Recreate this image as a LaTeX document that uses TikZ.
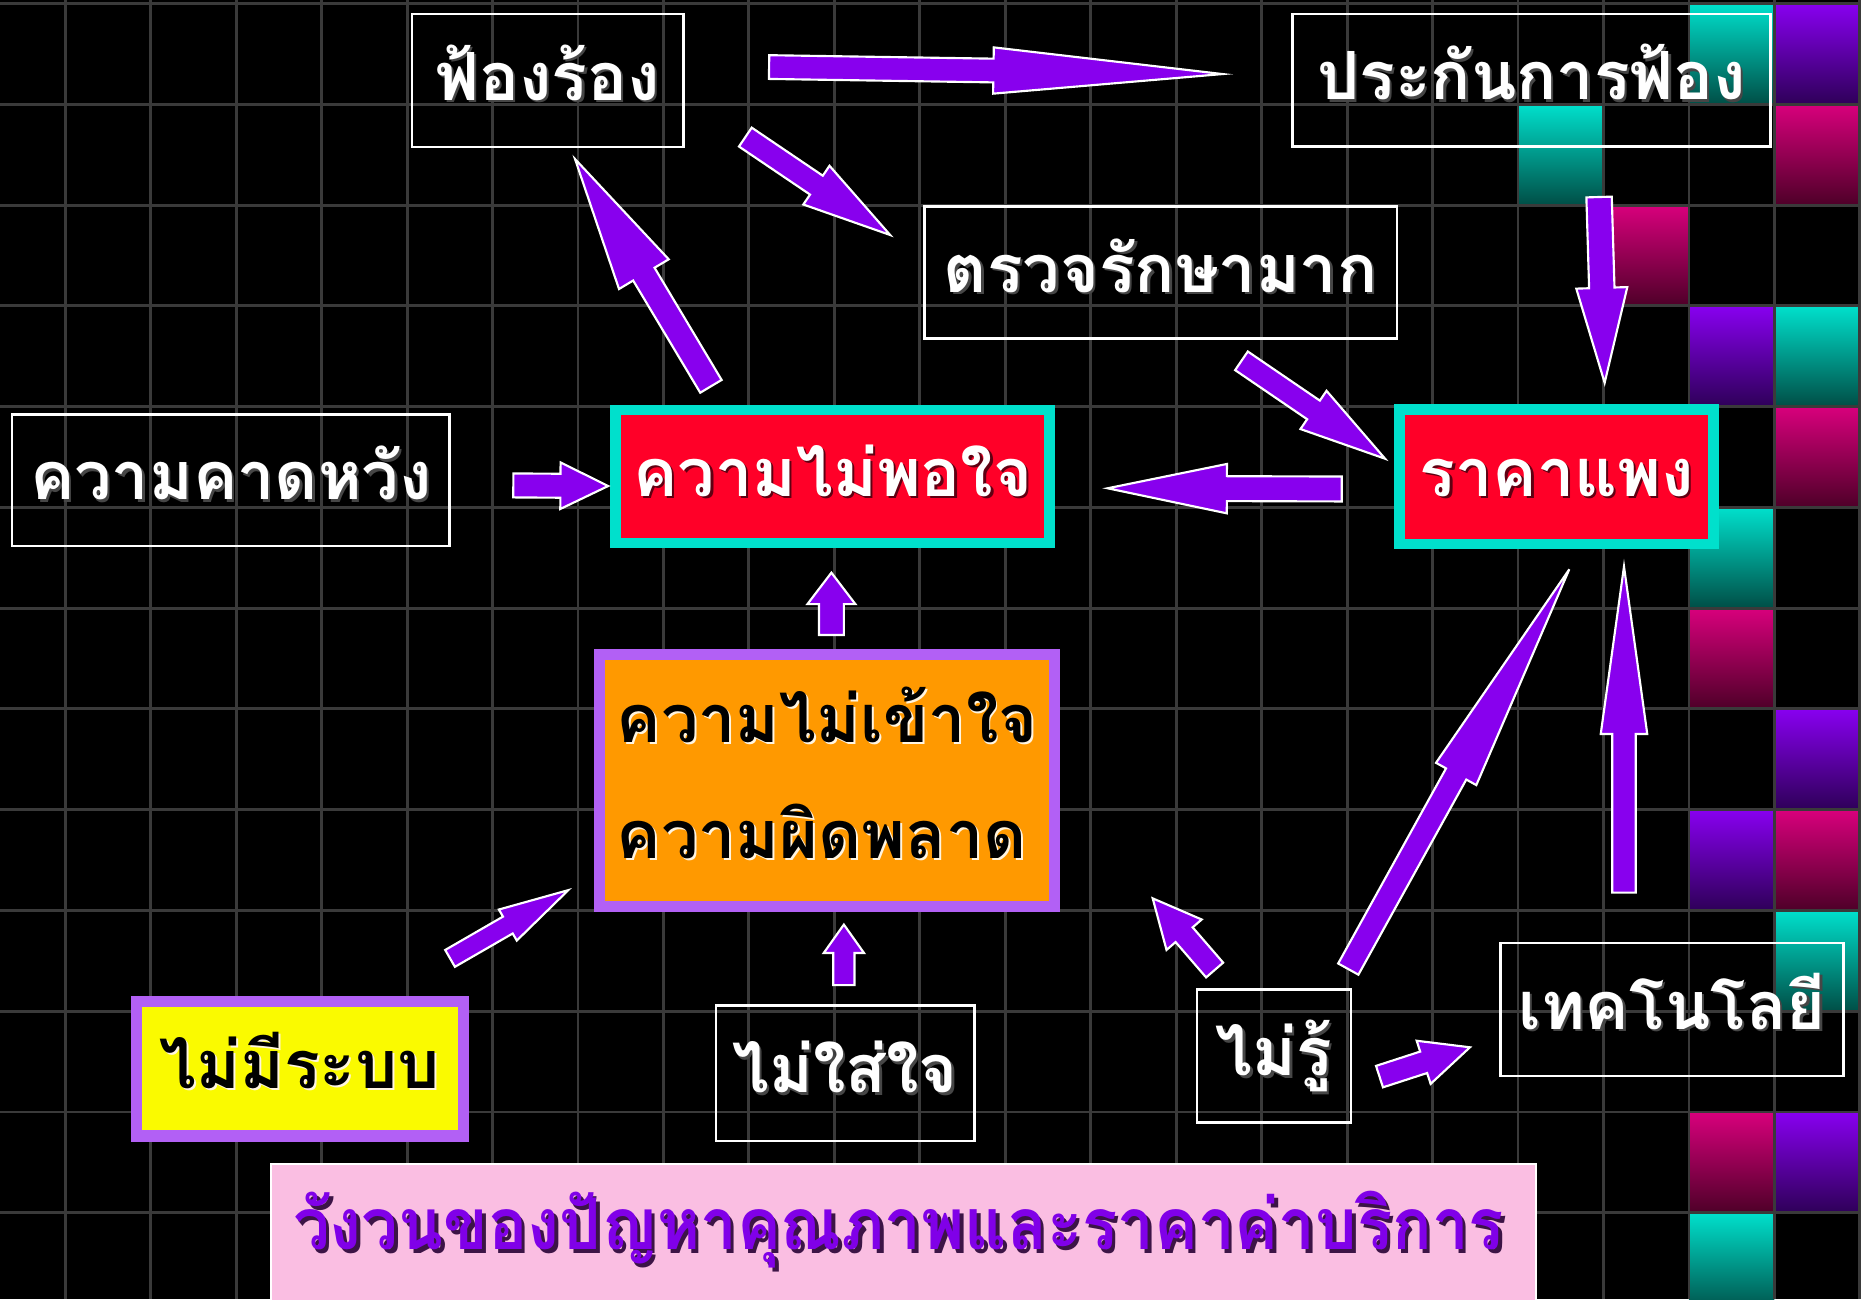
\documentclass[tikz,border=0pt]{standalone}
\usepackage{fontspec}
\newfontfamily\thai[Script=Thai]{Loma}
\newfontfamily\thaittl[Script=Thai,FakeStretch=0.92]{Loma}
\usetikzlibrary{calc}
\definecolor{gridc}{RGB}{58,58,58}
\definecolor{tealt}{RGB}{0,224,204}
\definecolor{tealb}{RGB}{0,78,70}
\definecolor{purt}{RGB}{136,0,240}
\definecolor{purb}{RGB}{46,0,88}
\definecolor{magt}{RGB}{216,0,124}
\definecolor{magb}{RGB}{78,0,40}
\definecolor{bordteal}{RGB}{0,224,204}
\definecolor{redf}{RGB}{255,0,40}
\definecolor{orangef}{RGB}{255,153,0}
\definecolor{bordpur}{RGB}{178,96,245}
\definecolor{yellowf}{RGB}{250,250,0}
\definecolor{pinkf}{RGB}{250,190,226}
\definecolor{arrp}{RGB}{136,0,238}
\definecolor{ttlp}{RGB}{128,0,232}
\definecolor{shdark}{RGB}{70,70,70}
\definecolor{shred}{RGB}{95,0,18}
\definecolor{shlight}{RGB}{255,245,225}
\definecolor{shttl}{RGB}{60,20,70}
\newcommand\shd[3][2pt]{\rlap{\kern#1\raisebox{-#1}{\textcolor{#2}{#3}}}#3}
\newcommand\barrow[6]{%
  \coordinate (#1b) at ($(#3)!#6pt!(#2)$);
  \draw[barr] ($(#2)!#4pt!90:(#3)$) -- ($(#1b)!#4pt!-90:(#2)$) -- ($(#1b)!#5pt!-90:(#2)$) -- (#3)
    -- ($(#1b)!#5pt!90:(#2)$) -- ($(#1b)!#4pt!90:(#2)$) -- ($(#2)!#4pt!-90:(#3)$) -- cycle;}
\tikzset{
  gridline/.style={draw=gridc, line width=2.4pt},
  barr/.style={fill=arrp, draw=white, line width=1.8pt, line join=miter},
  txt/.style={font=\thai\bfseries\fontsize{56}{60}\selectfont, text height=33pt, text depth=0pt, inner sep=0pt},
  wbox/.style={txt, draw=white, line width=2.2pt, text=white},
  redbox/.style={txt, draw=bordteal, fill=redf, line width=9pt, text=white},
  orbox/.style={txt, draw=bordpur, fill=orangef, line width=9pt, text=black},
  yelbox/.style={txt, draw=bordpur, fill=yellowf, line width=9.5pt, text=black},
  ttlbox/.style={draw=white, fill=pinkf, line width=2pt},
  ttltxt/.style={font=\thaittl\bfseries\fontsize{60}{64}\selectfont, text height=32pt, text depth=0pt, inner sep=0pt, text=ttlp}
}
\begin{document}
\begin{tikzpicture}[x=1pt,y=-1pt]
\useasboundingbox (0,0) rectangle (1568,1094.5);
\fill[black] (0,0) rectangle (1568,1094.5);
% gradient squares
\foreach \c/\r/\ct/\cb in {19/0/tealt/tealb, 20/0/purt/purb, 17/1/tealt/tealb, 20/1/magt/magb,
  18/2/magt/magb, 19/3/purt/purb, 20/3/tealt/tealb, 20/4/magt/magb, 19/5/tealt/tealb,
  19/6/magt/magb, 20/7/purt/purb, 19/8/purt/purb, 20/8/magt/magb, 20/9/tealt/tealb,
  19/11/magt/magb, 20/11/purt/purb, 19/12/tealt/tealb}
  \shade[top color=\ct, bottom color=\cb] ({55+72*\c},{3+84.9*\r}) rectangle ({127+72*\c},{87.9+84.9*\r});
% grid
\foreach \i in {0,...,21} \draw[gridline] ({55+72*\i},0) -- ({55+72*\i},1094.5);
\foreach \j in {0,...,12} \draw[gridline] (0,{3+84.9*\j}) -- (1568,{3+84.9*\j});
% boxes
\node[wbox, minimum width=228.8pt, minimum height=112.1pt] (fr) at (461.5,67.8) {\shd{shdark}{ฟ้องร้อง}};
\node[wbox, minimum width=402.8pt, minimum height=111.5pt] (pk) at (1290.5,67.5) {\shd{shdark}{ประกันการฟ้อง}};
\node[wbox, minimum width=397.8pt, minimum height=111.6pt] (tr) at (978,229.6) {\shd{shdark}{ตรวจรักษามาก}};
\node[wbox, minimum width=368.8pt, minimum height=110.8pt] (kw) at (194.5,404.5) {\shd{shdark}{ความคาดหวัง}};
\node[redbox, minimum width=365.7pt, minimum height=112pt] (pm) at (701.6,401.5) {\shd{shred}{ความไม่พอใจ}};
\node[redbox, minimum width=264.4pt, minimum height=113.4pt] (rk) at (1311.6,401.6) {\shd{shred}{ราคาแพง}};
\node[orbox, minimum width=383.5pt, minimum height=212pt, align=left, text height=131pt, text depth=0pt,
  font=\thai\bfseries\fontsize{56}{97.6}\selectfont] (km) at (696.8,657.5)
  {\shd[1.6pt]{shlight}{ความไม่เข้าใจ}\\\shd[1.6pt]{shlight}{ความผิดพลาด}};
\node[yelbox, minimum width=275.3pt, minimum height=113.2pt] (mr) at (252.6,900.5) {\shd[1.6pt]{shlight}{ไม่มีระบบ}};
\node[wbox, minimum width=217.8pt, minimum height=114pt] (ms) at (712,904.3) {\shd{shdark}{ไม่ใส่ใจ}};
\node[wbox, minimum width=129.8pt, minimum height=112.1pt] (mru) at (1073.4,889.9) {\shd{shdark}{ไม่รู้}};
\node[wbox, minimum width=289.3pt, minimum height=111.9pt] (tk) at (1408.8,850.5) {\shd{shdark}{เทคโนโลยี}};
\node[ttlbox, minimum width=1065.5pt, minimum height=119.4pt] (ttlb) at (761.3,1040.4) {};
\node[ttltxt] (ttl) at (757,1037) {\shd[3pt]{shttl}{วังวนของปัญหาคุณภาพและราคาค่าบริการ}};
% arrow end points
\coordinate (aT) at (648,56.5);     \coordinate (aH) at (1030,62.4);
\coordinate (bT) at (628,115.5);    \coordinate (bH) at (750,198);
\coordinate (cT) at (1046,304);     \coordinate (cH) at (1167,386.5);
\coordinate (dT) at (1347.3,166);   \coordinate (dH) at (1352,322.5);
\coordinate (eT) at (599,325.5);    \coordinate (eH) at (484.5,134);
\coordinate (fT) at (432.5,409);    \coordinate (fH) at (512.4,409.5);
\coordinate (gT) at (1130.5,412);   \coordinate (gH) at (933.2,411.4);
\coordinate (hT) at (700.5,535);    \coordinate (hH) at (700.5,482.5);
\coordinate (iT) at (711,830);      \coordinate (iH) at (711,779);
\coordinate (jT) at (379.2,807.5);  \coordinate (jH) at (478.8,750);
\coordinate (kT) at (1023.4,817.3); \coordinate (kH) at (971.2,756.9);
\coordinate (lT) at (1136,816.5);   \coordinate (lH) at (1322.2,479.7);
\coordinate (mT) at (1368.3,752.1); \coordinate (mH) at (1368.3,477.4);
\coordinate (nT) at (1162.3,907.1); \coordinate (nH) at (1238.5,882.4);
% arrows
\barrow{a}{aT}{aH}{10}{19.5}{193}
\barrow{b}{bT}{bH}{9.6}{19.7}{75}
\barrow{c}{cT}{cH}{9.5}{19.5}{73}
\barrow{d}{dT}{dH}{10.7}{21.5}{80}
\barrow{e}{eT}{eH}{10.5}{24.4}{113}
\barrow{f}{fT}{fH}{10.1}{19.6}{40.2}
\barrow{g}{gT}{gH}{10.5}{20.8}{100.5}
\barrow{h}{hT}{hH}{10.5}{20.2}{26.5}
\barrow{i}{iT}{iH}{9}{17}{24}
\barrow{j}{jT}{jH}{8.2}{15.1}{58.8}
\barrow{k}{kT}{kH}{9.5}{19.6}{40.5}
\barrow{l}{lT}{lH}{9.75}{19.4}{197}
\barrow{m}{mT}{mH}{9.85}{19.6}{141}
\barrow{n}{nT}{nH}{9.5}{19.1}{41}
\end{tikzpicture}
\end{document}
